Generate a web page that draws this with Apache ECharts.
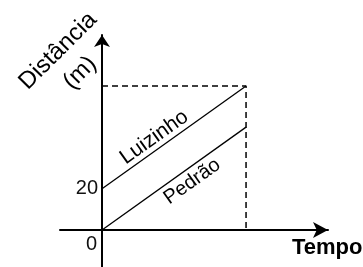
<!DOCTYPE html>
<html>
<head>
<meta charset="utf-8">
<script src="https://cdn.jsdelivr.net/npm/echarts@6/dist/echarts.min.js"></script>
<style>
  html, body { margin: 0; padding: 0; background: #fff; }
  #main { width: 363px; height: 267px; }
</style>
</head>
<body>
<div id="main"></div>
<script>
// tempo (início, fim) e distâncias de cada um
const tempo = [0, 10];
const luizinho = [20, 70];
const pedrao = [0, 50];
// linhas tracejadas de referência
const guiaTempo = [0, 10, 10];
const guiaDist = [70, 70, 0];
// marcações dos eixos
const yTicks = [20];
const xTicks = [0];

const font = '"Liberation Sans", Arial, sans-serif';

function pares(xs, ys) {
  return xs.map((x, i) => [x, ys[i]]);
}

function rotulo(nome, xs, ys, pos, dist, pad, size) {
  return {
    symbol: 'none',
    silent: true,
    animation: false,
    lineStyle: { color: 'rgba(0,0,0,0)', width: 1 },
    label: {
      show: true,
      position: pos,
      distance: dist,
      padding: pad,
      formatter: nome,
      color: '#000',
      fontSize: size,
      fontFamily: font
    },
    data: [[{ coord: [xs[0], ys[0]] }, { coord: [xs[1], ys[1]] }]]
  };
}

const myChart = echarts.init(document.getElementById('main'));

myChart.setOption({
  animation: false,
  grid: { left: 60, right: 35, top: 35, bottom: 0, outerBoundsMode: 'none', containLabel: false },
  // título do eixo vertical, inclinado
  graphic: [{
    type: 'text',
    x: 69,
    y: 62,
    rotation: Math.PI / 4,
    silent: true,
    style: {
      text: 'Distância\n(m)',
      align: 'center',
      verticalAlign: 'middle',
      lineHeight: 31,
      fill: '#000',
      fontSize: 24,
      fontFamily: font
    }
  }],
  xAxis: {
    type: 'value',
    min: -2.917,
    max: 15.69,
    offset: -37,
    splitLine: { show: false },
    axisTick: { show: false },
    axisLine: {
      onZero: false,
      symbol: ['none', 'arrow'],
      symbolSize: [12, 15],
      lineStyle: { color: '#000', width: 2 }
    },
    axisLabel: {
      customValues: xTicks,
      align: 'right',
      padding: [0, 5, 0, 0],
      margin: 4,
      color: '#111',
      fontSize: 20,
      fontFamily: font
    },
    name: 'Tempo',
    nameLocation: 'end',
    nameGap: -36,
    nameMoveOverlap: false,
    nameTextStyle: {
      align: 'left',
      verticalAlign: 'top',
      padding: [7, 0, 0, 0],
      color: '#000',
      fontSize: 22,
      fontWeight: 'bold',
      fontFamily: font
    }
  },
  yAxis: {
    type: 'value',
    min: -18,
    max: 94.8,
    offset: -42,
    splitLine: { show: false },
    axisTick: { show: false },
    axisLine: {
      onZero: false,
      symbol: ['none', 'arrow'],
      symbolSize: [12, 12],
      lineStyle: { color: '#000', width: 2 }
    },
    axisLabel: {
      customValues: yTicks,
      margin: 4,
      color: '#111',
      fontSize: 20,
      fontFamily: font
    }
  },
  series: [
    {
      name: 'Luizinho',
      type: 'line',
      data: pares(tempo, luizinho),
      showSymbol: false,
      silent: true,
      lineStyle: { color: '#000', width: 1.3 },
      markLine: rotulo('Luizinho', tempo, luizinho, 'insideMiddleTop', 1, [0, 32, 0, 0], 21)
    },
    {
      name: 'Pedrão',
      type: 'line',
      data: pares(tempo, pedrao),
      showSymbol: false,
      silent: true,
      lineStyle: { color: '#000', width: 1.3 },
      markLine: rotulo('Pedrão', tempo, pedrao, 'insideMiddleBottom', 3, [0, 0, 0, 26], 20)
    },
    {
      name: 'guia',
      type: 'line',
      data: pares(guiaTempo, guiaDist),
      showSymbol: false,
      silent: true,
      lineStyle: { color: '#000', width: 1.5, type: [6, 4] }
    }
  ]
});
</script>
</body>
</html>
